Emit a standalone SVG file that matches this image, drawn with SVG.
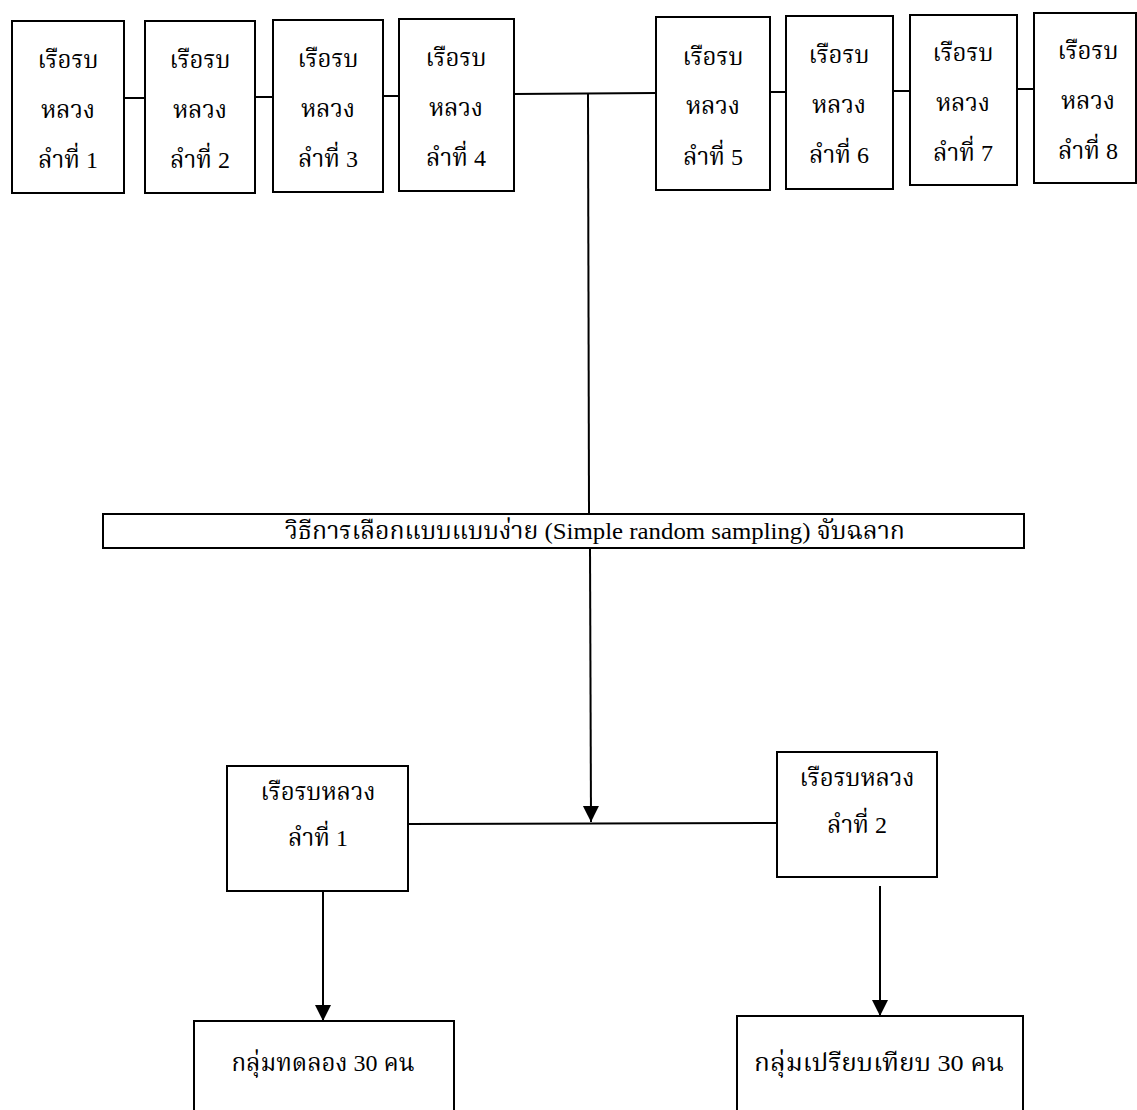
<svg xmlns="http://www.w3.org/2000/svg" width="1137" height="1110" viewBox="0 0 1137 1110">
<style>
.box{fill:#fff;stroke:#000;stroke-width:2}
.ln{fill:none;stroke:#000;stroke-width:2}
text{font-family:"Liberation Serif","Noto Serif Thai","Noto Sans Thai","Tlwg Typo","Garuda","Loma","DejaVu Sans",serif;font-size:24px;fill:#000;text-anchor:middle}
.mid{font-size:24px}
</style>
<defs>
<marker id="arrd" markerUnits="userSpaceOnUse" markerWidth="16" markerHeight="18" viewBox="0 0 16 16" refX="16" refY="8" orient="auto">
<path d="M0,0 L16,8 L0,16 Z" fill="#000"/>
</marker>
</defs>
<g id="connectors">
<line class="ln" x1="124" y1="98" x2="145" y2="98"/>
<line class="ln" x1="255" y1="97" x2="273" y2="97"/>
<line class="ln" x1="383" y1="96" x2="399" y2="96"/>
<line class="ln" x1="514" y1="94" x2="656" y2="93"/>
<line class="ln" x1="770" y1="92" x2="786" y2="92"/>
<line class="ln" x1="893" y1="91" x2="910" y2="91"/>
<line class="ln" x1="1017" y1="89" x2="1034" y2="89"/>
<line class="ln" x1="588" y1="94" x2="589" y2="514"/>
<line class="ln" x1="590" y1="548" x2="591" y2="822" marker-end="url(#arrd)"/>
<line class="ln" x1="408" y1="824" x2="777" y2="823"/>
<line class="ln" x1="323" y1="891" x2="323" y2="1021" marker-end="url(#arrd)"/>
<line class="ln" x1="880" y1="886" x2="880" y2="1016" marker-end="url(#arrd)"/>
</g>
<g id="ship1"><rect class="box" x="12" y="21" width="112" height="172"/><text x="68" y="68">เรือรบ</text><text x="68" y="118">หลวง</text><text x="68" y="168">ลำที่ 1</text></g>
<g id="ship2"><rect class="box" x="145" y="21" width="110" height="172"/><text x="200" y="68">เรือรบ</text><text x="200" y="118">หลวง</text><text x="200" y="168">ลำที่ 2</text></g>
<g id="ship3"><rect class="box" x="273" y="20" width="110" height="172"/><text x="328" y="67">เรือรบ</text><text x="328" y="117">หลวง</text><text x="328" y="167">ลำที่ 3</text></g>
<g id="ship4"><rect class="box" x="399" y="19" width="115" height="172"/><text x="456" y="66">เรือรบ</text><text x="456" y="116">หลวง</text><text x="456" y="166">ลำที่ 4</text></g>
<g id="ship5"><rect class="box" x="656" y="17" width="114" height="173"/><text x="713" y="65">เรือรบ</text><text x="713" y="114">หลวง</text><text x="713" y="165">ลำที่ 5</text></g>
<g id="ship6"><rect class="box" x="786" y="16" width="107" height="173"/><text x="839" y="63">เรือรบ</text><text x="839" y="113">หลวง</text><text x="839" y="163">ลำที่ 6</text></g>
<g id="ship7"><rect class="box" x="910" y="15" width="107" height="170"/><text x="963" y="61">เรือรบ</text><text x="963" y="111">หลวง</text><text x="963" y="161">ลำที่ 7</text></g>
<g id="ship8"><rect class="box" x="1034" y="13" width="102" height="170"/><text x="1088" y="59">เรือรบ</text><text x="1088" y="109">หลวง</text><text x="1088" y="159">ลำที่ 8</text></g>
<g id="method"><rect class="box" x="103" y="514" width="921" height="34"/><text class="mid" x="595" y="539" textLength="620" lengthAdjust="spacingAndGlyphs">วิธีการเลือกแบบแบบง่าย (Simple random sampling) จับฉลาก</text></g>
<g id="selA"><rect class="box" x="227" y="766" width="181" height="125"/><text x="318" y="800">เรือรบหลวง</text><text x="318" y="846">ลำที่ 1</text></g>
<g id="selB"><rect class="box" x="777" y="752" width="160" height="125"/><text x="857" y="786">เรือรบหลวง</text><text x="857" y="833">ลำที่ 2</text></g>
<g id="groupA"><rect class="box" x="194" y="1021" width="260" height="98"/><text x="323" y="1071">กลุ่มทดลอง 30 คน</text></g>
<g id="groupB"><rect class="box" x="737" y="1016" width="286" height="103"/><text x="879" y="1071" textLength="250" lengthAdjust="spacingAndGlyphs">กลุ่มเปรียบเทียบ 30 คน</text></g>
</svg>
